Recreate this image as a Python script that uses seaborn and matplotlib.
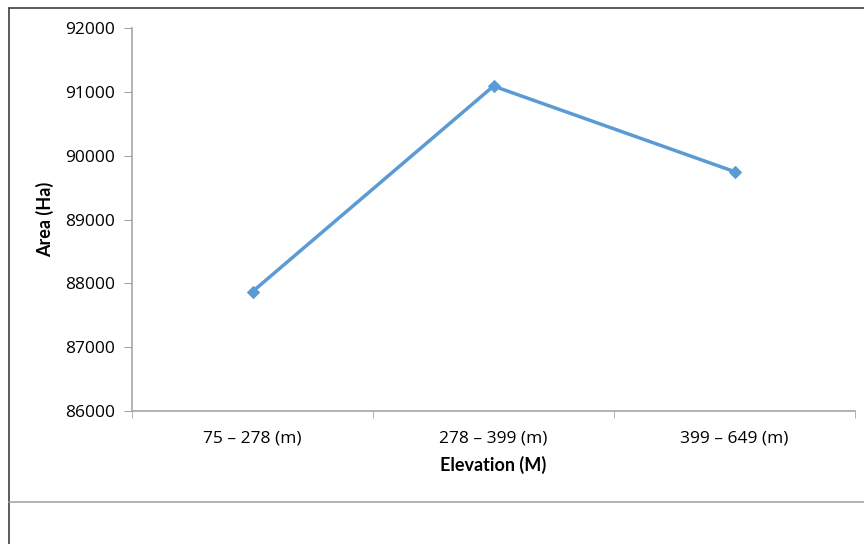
import numpy as np
import pandas as pd
import matplotlib
matplotlib.use("Agg")
import matplotlib.pyplot as plt
from matplotlib.lines import Line2D
import seaborn as sns

# data
categories = ["75 – 278 (m)", "278 – 399 (m)", "399 – 649 (m)"]
area_ha = [87870, 91090, 89750]
y_ticks = [86000, 87000, 88000, 89000, 90000, 91000, 92000]

df = pd.DataFrame({"Elevation": categories, "Area": area_ha})

sns.set_style("white")
plt.rcParams["font.family"] = ["Open Sans", "DejaVu Sans"]
plt.rcParams["text.color"] = "black"
plt.rcParams["xtick.color"] = "black"
plt.rcParams["ytick.color"] = "black"
plt.rcParams["axes.labelcolor"] = "black"

W, H = 864, 544
fig = plt.figure(figsize=(W / 100, H / 100), dpi=100)
ax = fig.add_axes([132 / W, 1 - 411 / H, (855 - 132) / W, (411 - 28) / H])

sns.lineplot(data=df, x="Elevation", y="Area", ax=ax, color="#5B9BD5",
             marker="D", markersize=6, markeredgecolor="#5B9BD5",
             linewidth=2.5, sort=False)

ax.set_xlim(-0.5, 2.5)
ax.set_ylim(86000, 92000)
ax.set_yticks(y_ticks)
ax.set_yticklabels([str(t) for t in y_ticks])
ax.set_xticks(range(len(categories)))
ax.set_xticklabels(categories)
ax.set_xticks([-0.5, 0.5, 1.5, 2.5], minor=True)

grey = "#A6A6A6"
for side in ["top", "right"]:
    ax.spines[side].set_visible(False)
for side in ["left", "bottom"]:
    ax.spines[side].set_color(grey)
    ax.spines[side].set_linewidth(1.2)

ax.tick_params(axis="y", which="major", direction="out", length=6, color=grey,
               labelcolor="black", labelsize=12.5, pad=6, left=True)
ax.tick_params(axis="x", which="major", length=0, labelcolor="black",
               labelsize=12.5, pad=14)
ax.tick_params(axis="x", which="minor", direction="out", length=5, color=grey,
               bottom=True)

ax.set_ylabel("Area (Ha)", family=["Lato", "DejaVu Sans"], fontsize=13,
              fontweight="bold", labelpad=8)
ax.set_xlabel("Elevation (M)", family=["Lato", "DejaVu Sans"], fontsize=13,
              fontweight="bold", labelpad=7)

# outer chart frame (Excel style)
fig.add_artist(Line2D([8.5 / W, 1], [1 - 7.5 / H, 1 - 7.5 / H],
                      transform=fig.transFigure, color="#404040", lw=1.2))
fig.add_artist(Line2D([8.5 / W, 8.5 / W], [0, 1 - 7.5 / H],
                      transform=fig.transFigure, color="#404040", lw=1.2))
fig.add_artist(Line2D([8.5 / W, 1], [1 - 502 / H, 1 - 502 / H],
                      transform=fig.transFigure, color=grey, lw=1.2))

fig.savefig("out.png", dpi=100)
